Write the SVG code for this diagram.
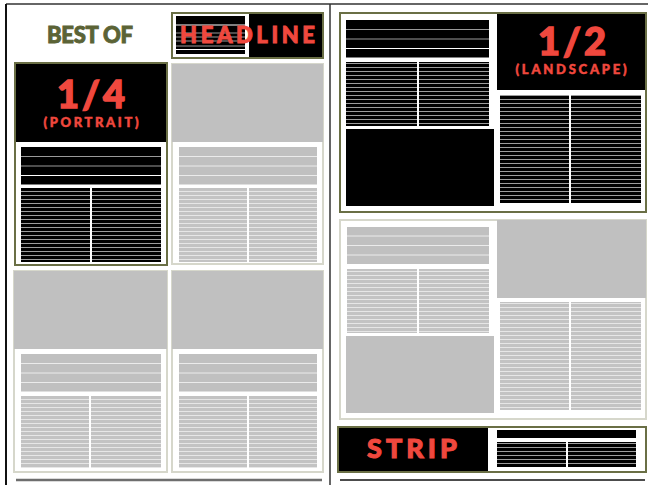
<svg xmlns="http://www.w3.org/2000/svg" width="648" height="485" viewBox="0 0 648 485">
<defs>
<style>
.olive{fill:none;stroke:#6a6f45;stroke-width:2}
.lite{fill:#fff;stroke:#d6d7cb;stroke-width:2}
.blk{fill:#000}
.gry{fill:#c0c0c0}
.red{fill:#f0483e;stroke:#f0483e;font-family:Lato,"Open Sans",sans-serif;font-weight:900}
.bl{stroke:#9a9a9a;stroke-width:1}
.gl{stroke:#ebebeb;stroke-width:1}
.frame{stroke:#333;fill:none}
</style>
<pattern id="pb" patternUnits="userSpaceOnUse" width="4" height="4"><rect width="4" height="4" fill="#000"/><rect y="3" width="4" height="1" fill="#9c9c9c"/></pattern>
<pattern id="pg" patternUnits="userSpaceOnUse" width="4" height="4"><rect width="4" height="4" fill="#c3c3c3"/><rect y="3" width="4" height="1" fill="#e6e6e6"/></pattern>
</defs>
<rect width="648" height="485" fill="#fff"/>
<g id="frame">
<line class="frame" x1="6" y1="4" x2="648" y2="4" stroke-width="1.5"/>
<line x1="6" y1="4" x2="6" y2="485" stroke="#111" stroke-width="2"/>
<line class="frame" x1="330" y1="4" x2="330" y2="485" stroke-width="1.5"/>
<line x1="16" y1="480" x2="322" y2="480" stroke="#6e6e6e" stroke-width="2.5"/>
<line x1="340" y1="480" x2="645" y2="480" stroke="#111" stroke-width="1.5"/>
</g>
<g id="best-of">
<text x="90" y="43" text-anchor="middle" font-family="Lato,'Open Sans',sans-serif" font-weight="900" font-size="22" fill="#5b6336" stroke="#5b6336" stroke-width="0.9" textLength="86" lengthAdjust="spacing">BEST OF</text>
</g>
<g id="headline">
<rect x="172" y="13" width="151" height="45" fill="#fff"/>
<rect x="176" y="16" width="69" height="38" fill="#000"/>
<line x1="176" y1="25" x2="245" y2="25" stroke="#fff" stroke-width="1"/>
<line x1="176" y1="33" x2="245" y2="33" stroke="#9a9a9a" stroke-width="1"/>
<line x1="176" y1="37" x2="245" y2="37" stroke="#9a9a9a" stroke-width="1"/>
<line x1="176" y1="41" x2="245" y2="41" stroke="#9a9a9a" stroke-width="1"/>
<line x1="176" y1="46" x2="245" y2="46" stroke="#9a9a9a" stroke-width="1"/>
<line x1="176" y1="49.5" x2="245" y2="49.5" stroke="#fff" stroke-width="1"/>
<rect x="249" y="13" width="74" height="45" fill="#000"/>
<rect x="172" y="13" width="151" height="45" class="olive" stroke-width="1.5"/>
<text x="180" y="43" class="red" font-size="22" stroke-width="0.9" textLength="135" lengthAdjust="spacing">HEADLINE</text>
</g>
<g id="quarter-portrait">
<rect x="15" y="63" width="152" height="202" fill="#fff"/>
<rect x="15" y="63" width="152" height="79" class="blk"/>
<rect x="21" y="147" width="140" height="37.5" class="blk"/>
<line x1="21" y1="156.5" x2="161" y2="156.5" class="bl"/>
<line x1="21" y1="166" x2="161" y2="166" class="bl"/>
<line x1="21" y1="175.5" x2="161" y2="175.5" stroke="#fff"/>
<rect x="21" y="188" width="69" height="74" fill="url(#pb)"/>
<rect x="92" y="188" width="69" height="74" fill="url(#pb)"/>
<rect x="15" y="63" width="152" height="202" class="olive" stroke-width="1.5"/>
<text x="91" y="108" class="red" font-size="38" stroke-width="1.4" text-anchor="middle" textLength="68" lengthAdjust="spacing">1/4</text>
<text x="91" y="127" class="red" font-size="13" stroke-width="0.5" text-anchor="middle" textLength="95" lengthAdjust="spacing">(PORTRAIT)</text>
</g>
<g id="grey-panel-1">
<rect x="172" y="64" width="151" height="200" class="lite"/>
<rect x="172" y="64" width="151" height="78" class="gry"/>
<rect x="179" y="147" width="138" height="37.5" class="gry"/>
<line x1="179" y1="156.5" x2="317" y2="156.5" class="gl"/>
<line x1="179" y1="166" x2="317" y2="166" class="gl"/>
<line x1="179" y1="175.5" x2="317" y2="175.5" class="gl"/>
<rect x="179" y="188" width="68" height="74" fill="url(#pg)"/>
<rect x="249" y="188" width="68" height="74" fill="url(#pg)"/>
</g>
<g id="grey-panel-2">
<rect x="14" y="271" width="153" height="201" class="lite"/>
<rect x="14" y="271" width="153" height="78" class="gry"/>
<rect x="21" y="354" width="140" height="37.5" class="gry"/>
<line x1="21" y1="363.5" x2="161" y2="363.5" class="gl"/>
<line x1="21" y1="373" x2="161" y2="373" class="gl"/>
<line x1="21" y1="382.5" x2="161" y2="382.5" class="gl"/>
<rect x="21" y="396" width="68" height="72" fill="url(#pg)"/>
<rect x="91" y="396" width="70" height="72" fill="url(#pg)"/>
</g>
<g id="grey-panel-3">
<rect x="172" y="271" width="151" height="201" class="lite"/>
<rect x="172" y="271" width="151" height="78" class="gry"/>
<rect x="179" y="354" width="138" height="37.5" class="gry"/>
<line x1="179" y1="363.5" x2="317" y2="363.5" class="gl"/>
<line x1="179" y1="373" x2="317" y2="373" class="gl"/>
<line x1="179" y1="382.5" x2="317" y2="382.5" class="gl"/>
<rect x="179" y="396" width="68" height="72" fill="url(#pg)"/>
<rect x="249" y="396" width="68" height="72" fill="url(#pg)"/>
</g>
<g id="half-landscape">
<rect x="340" y="13" width="306" height="199" fill="#fff"/>
<rect x="346" y="20" width="143" height="37.5" class="blk"/>
<line x1="346" y1="29.5" x2="489" y2="29.5" class="bl"/>
<line x1="346" y1="39" x2="489" y2="39" class="bl"/>
<line x1="346" y1="48.5" x2="489" y2="48.5" stroke="#fff"/>
<rect x="346" y="62" width="71" height="64" fill="url(#pb)"/>
<rect x="419" y="62" width="70" height="64" fill="url(#pb)"/>
<rect x="346" y="129" width="148" height="77" class="blk"/>
<rect x="497" y="13" width="149" height="77" class="blk"/>
<rect x="500" y="95" width="69" height="108" fill="url(#pb)"/>
<rect x="571" y="95" width="70" height="108" fill="url(#pb)"/>
<rect x="340" y="13" width="306" height="199" class="olive"/>
<text x="572" y="55" class="red" font-size="38" stroke-width="1.4" text-anchor="middle" textLength="68" lengthAdjust="spacing">1/2</text>
<text x="571" y="74" class="red" font-size="13" stroke-width="0.5" text-anchor="middle" textLength="111" lengthAdjust="spacing">(LANDSCAPE)</text>
</g>
<g id="grey-panel-4">
<rect x="340" y="220" width="306" height="199" class="lite"/>
<rect x="347" y="227" width="142" height="37" class="gry"/>
<line x1="347" y1="236" x2="489" y2="236" class="gl"/>
<line x1="347" y1="245.5" x2="489" y2="245.5" class="gl"/>
<line x1="347" y1="255" x2="489" y2="255" class="gl"/>
<rect x="347" y="269" width="70" height="64" fill="url(#pg)"/>
<rect x="419" y="269" width="70" height="64" fill="url(#pg)"/>
<rect x="346" y="336" width="148" height="77" class="gry"/>
<rect x="497" y="220" width="149" height="78" class="gry"/>
<rect x="500" y="302" width="69" height="108" fill="url(#pg)"/>
<rect x="571" y="302" width="70" height="108" fill="url(#pg)"/>
</g>
<g id="strip">
<rect x="338" y="427" width="308" height="45" fill="#fff"/>
<rect x="338" y="427" width="150" height="45" class="blk"/>
<rect x="497" y="430" width="139" height="8" class="blk"/>
<rect x="497" y="442" width="69" height="25" fill="url(#pb)"/>
<rect x="568" y="442" width="68" height="25" fill="url(#pb)"/>
<rect x="338" y="427" width="308" height="45" class="olive"/>
<text x="367" y="458" class="red" font-size="27" stroke-width="1" textLength="90" lengthAdjust="spacing">STRIP</text>
</g>
</svg>
